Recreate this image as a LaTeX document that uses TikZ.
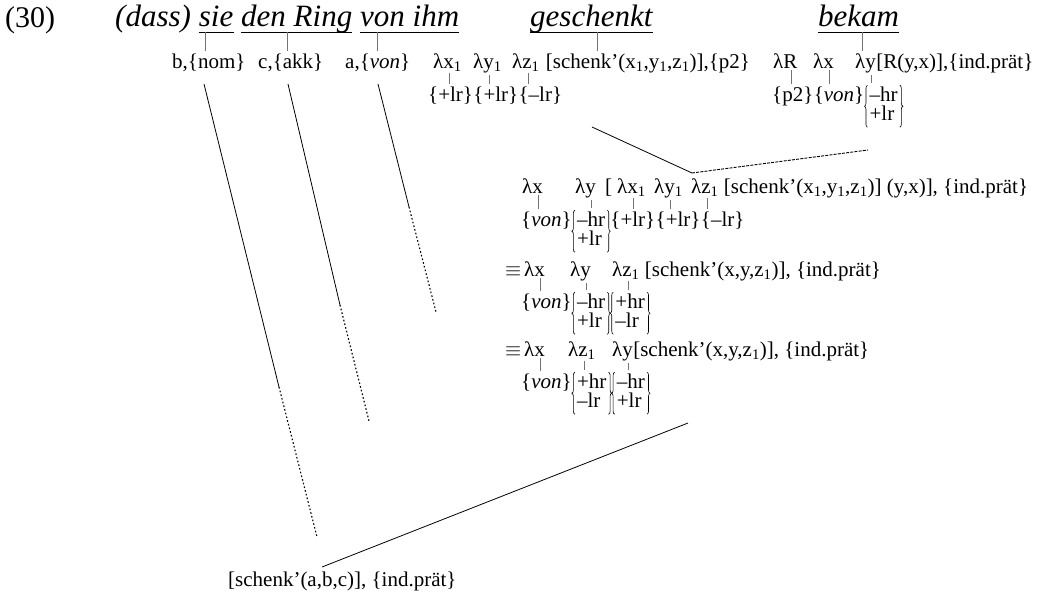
\documentclass[tikz,border=0pt]{standalone}
\usepackage{fontspec}
\setmainfont{Liberation Serif}
\usetikzlibrary{positioning,decorations.pathreplacing,calc}
\newcommand\sbs[1]{\textsubscript{#1}}
\newcommand\fm[2]{\begin{tabular}[t]{@{}l@{}}#1\\#2\end{tabular}}
\renewcommand\arraystretch{0.73}
\newcommand\tk[3]{\coordinate (tmp) at ($(#1.south west)!#2!(#1.south east)$);
  \draw[tick] (tmp) -- (tmp |- #3.north);}
\newcommand\brs[1]{\draw[brc] ([xshift=3pt]#1.south west) -- ([xshift=3pt]#1.north west);
  \draw[brc] ([xshift=-3pt]#1.north east) -- ([xshift=-3pt]#1.south east);}
\begin{document}
\begin{tikzpicture}[x=1pt,y=-1pt,
  every node/.style={inner sep=0pt, font=\fontsize{21}{24}\selectfont},
  titlef/.style={font=\fontsize{31}{34}\selectfont\itshape},
  tick/.style={draw=black!55, line width=0.6pt, shorten <=2pt, shorten >=2pt},
  uline/.style={line width=0.8pt},
  link/.style={line width=0.8pt},
  dots/.style={line width=1.1pt, dash pattern=on 1.6pt off 2.2pt},
  dsh/.style={line width=0.9pt, dash pattern=on 3pt off 1.2pt},
  fbox/.style={inner xsep=5pt, inner ysep=1pt},
  brc/.style={decorate, decoration={brace, amplitude=3pt}, line width=0.6pt}]
\useasboundingbox (0,0) rectangle (1038,595);
% ---- title row
\node[anchor=base west, font=\fontsize{30}{33}\selectfont] (ex) at (5,27) {(30)};
\node[titlef, anchor=base west] (dass) at (115,26) {(dass)};
\node[titlef, base right=7.5pt of dass] (sie) {sie};
\node[titlef, base right=7.5pt of sie] (ring) {den Ring};
\node[titlef, base right=7.5pt of ring] (ihm) {von ihm};
\node[titlef, anchor=base west] (gesch) at (530,26) {geschenkt};
\node[titlef, anchor=base west] (bekam) at (818,26) {bekam};
\foreach \w in {sie,ring,ihm,gesch,bekam}{\draw[uline] (\w.west |- 0,32) -- (\w.east |- 0,32);}
% ---- row 2
\node[anchor=base west] (nom) at (172,68) {b,\{nom\}};
\node[anchor=base west] (akk) at (258,68) {c,\{akk\}};
\node[anchor=base west] (avon) at (345,68) {a,\{\textit{von}\}};
\node[anchor=base west] (lx1) at (433,68) {λx\sbs{1}};
\node[anchor=base west] (ly1) at (473,68) {λy\sbs{1}};
\node[anchor=base west] (lz1) at (512,68) {λz\sbs{1}};
\node[base right=6pt of lz1] (sch1) {[schenk’(x\sbs1,y\sbs1,z\sbs1)],\{p2\}};
\node[anchor=base west] (lR) at (773,68) {λR};
\node[anchor=base west] (lRx) at (813,68) {λx};
\node[anchor=base west] (lRy) at (855,68) {λy};
\node[base right=0pt of lRy] (Rbody) {[R(y,x)],\{ind.prät\}};
\coordinate (u1) at (205,32);
\coordinate (u2) at (287,32);
\coordinate (u3) at (377,32);
\coordinate (u4) at (597,32);
\coordinate (u5) at (862,32);
\draw[tick, shorten <=0pt] (u1) -- (u1 |- nom.north);
\draw[tick, shorten <=0pt] (u2) -- (u2 |- akk.north);
\draw[tick, shorten <=0pt] (u3) -- (u3 |- avon.north);
\draw[tick, shorten <=0pt] (u4) -- (u4 |- sch1.north);
\draw[tick, shorten <=0pt] (u5) -- (u5 |- lRy.north);
% ---- row 3
\node[anchor=base west] (f1) at (428,101) {\{+lr\}};
\node[base right=0pt of f1] (f2) {\{+lr\}};
\node[base right=0pt of f2] (f3) {\{–lr\}};
\tk{lx1}{0.58}{f1}
\tk{ly1}{0.58}{f2}
\tk{lz1}{0.58}{f3}
\node[anchor=base west] (p2) at (772,101) {\{p2\}};
\node[base right=0pt of p2] (fvon) {\{\textit{von}\}};
\node[base right=0pt of fvon, fbox] (m1) {\fm{–hr}{+lr}};
\brs{m1}
\tk{lR}{0.73}{p2}
\tk{lRx}{0.76}{fvon}
\tk{lRy}{0.76}{m1}
% ---- row 4
\node[anchor=base west] (r4x) at (522,193) {λx};
\node[anchor=base west] (r4y) at (575,193) {λy};
\node[anchor=base west] (r4b) at (605,193) {[};
\node[anchor=base west] (r4x1) at (617,193) {λx\sbs1};
\node[anchor=base west] (r4y1) at (654,193) {λy\sbs1};
\node[anchor=base west] (r4z1) at (691,193) {λz\sbs1};
\node[base right=5pt of r4z1] (r4body) {[schenk’(x\sbs1,y\sbs1,z\sbs1)] (y,x)], \{ind.prät\}};
% ---- row 5
\node[anchor=base west] (r5v) at (521,226) {\{\textit{von}\}};
\node[base right=0pt of r5v, fbox] (r5m) {\fm{–hr}{+lr}};
\brs{r5m}
\node[base right=0pt of r5m] (r5a) {\{+lr\}};
\node[base right=0pt of r5a] (r5b) {\{+lr\}};
\node[base right=0pt of r5b] (r5c) {\{–lr\}};
\tk{r4x}{0.76}{r5v}
\tk{r4y}{0.76}{r5m}
\tk{r4x1}{0.58}{r5a}
\tk{r4y1}{0.58}{r5b}
\tk{r4z1}{0.58}{r5c}
% ---- row 6
\node[anchor=base west] (eq1) at (505,276) {$\equiv$};
\node[anchor=base west] (r6x) at (524,276) {λx};
\node[anchor=base west] (r6y) at (570,276) {λy};
\node[anchor=base west] (r6z) at (612,276) {λz\sbs1};
\node[base right=5pt of r6z] (r6body) {[schenk’(x,y,z\sbs1)], \{ind.prät\}};
% ---- row 7
\node[anchor=base west] (r7v) at (521,308) {\{\textit{von}\}};
\node[base right=0pt of r7v, fbox] (r7m) {\fm{–hr}{+lr}};
\node[base right=0pt of r7m, fbox] (r7n) {\fm{+hr}{–lr}};
\brs{r7m}
\brs{r7n}
\tk{r6x}{0.76}{r7v}
\tk{r6y}{0.76}{r7m}
\tk{r6z}{0.58}{r7n}
% ---- row 8
\node[anchor=base west] (eq2) at (505,356) {$\equiv$};
\node[anchor=base west] (r8x) at (524,356) {λx};
\node[anchor=base west] (r8z) at (568,356) {λz\sbs1};
\node[anchor=base west] (r8y) at (612,356) {λy};
\node[base right=0pt of r8y] (r8body) {[schenk’(x,y,z\sbs1)], \{ind.prät\}};
% ---- row 9
\node[anchor=base west] (r9v) at (521,388) {\{\textit{von}\}};
\node[base right=0pt of r9v, fbox] (r9m) {\fm{+hr}{–lr}};
\node[base right=0pt of r9m, fbox] (r9n) {\fm{–hr}{+lr}};
\brs{r9m}
\brs{r9n}
\tk{r8x}{0.76}{r9v}
\tk{r8z}{0.58}{r9m}
\tk{r8y}{0.76}{r9n}
% ---- result
\node[anchor=base west] (res) at (228,586) {[schenk’(a,b,c)], \{ind.prät\}};
% ---- connecting lines
\coordinate (bs) at (204,84);  \coordinate (bm) at (279,387); \coordinate (be) at (317,537);
\coordinate (cs) at (288,84);  \coordinate (cm) at (340,305); \coordinate (ce) at (369,421);
\coordinate (vs) at (378,84);  \coordinate (vm) at (409,207); \coordinate (ve) at (436,312);
\coordinate (gs) at (592,127); \coordinate (gk) at (692,173); \coordinate (ge) at (868,150);
\coordinate (fs) at (688,423); \coordinate (fe) at (322,567);
\draw[link] (bs) -- (bm); \draw[dots] (bm) -- (be);
\draw[link] (cs) -- (cm); \draw[dots] (cm) -- (ce);
\draw[link] (vs) -- (vm); \draw[dots] (vm) -- (ve);
\draw[link] (gs) -- (gk); \draw[dsh] (gk) -- (ge);
\draw[link] (fs) -- (fe);
\end{tikzpicture}
\end{document}
